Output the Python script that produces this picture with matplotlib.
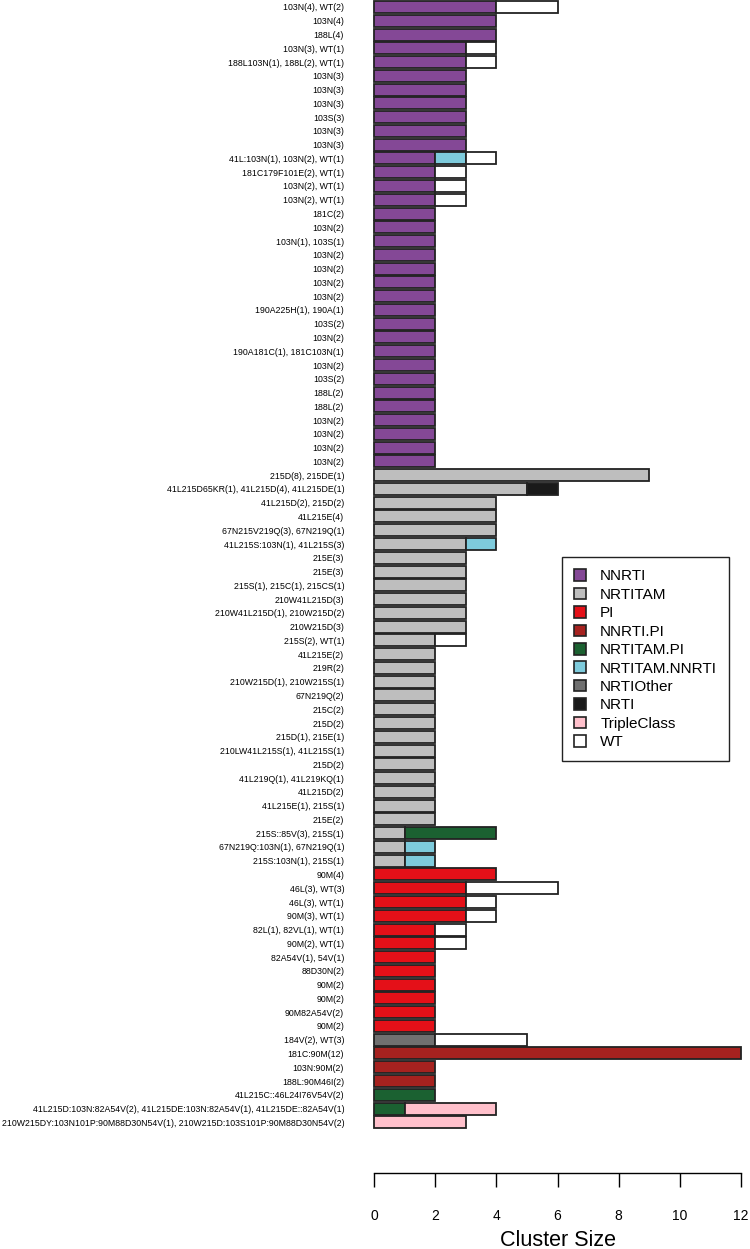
import numpy as np
import matplotlib
matplotlib.use('Agg')
import matplotlib.pyplot as plt
from matplotlib.patches import Patch

plt.rcParams['font.family'] = ['Liberation Sans', 'DejaVu Sans']

labels = [
    # NNRTI clusters
    '103N(4), WT(2)', '103N(4)', '188L(4)', '103N(3), WT(1)',
    '188L103N(1), 188L(2), WT(1)', '103N(3)', '103N(3)', '103N(3)', '103S(3)',
    '103N(3)', '103N(3)', '41L:103N(1), 103N(2), WT(1)',
    '181C179F101E(2), WT(1)', '103N(2), WT(1)', '103N(2), WT(1)', '181C(2)',
    '103N(2)', '103N(1), 103S(1)', '103N(2)', '103N(2)', '103N(2)', '103N(2)',
    '190A225H(1), 190A(1)', '103S(2)', '103N(2)', '190A181C(1), 181C103N(1)',
    '103N(2)', '103S(2)', '188L(2)', '188L(2)', '103N(2)', '103N(2)',
    '103N(2)', '103N(2)',
    # NRTI TAM clusters
    '215D(8), 215DE(1)', '41L215D65KR(1), 41L215D(4), 41L215DE(1)',
    '41L215D(2), 215D(2)', '41L215E(4)', '67N215V219Q(3), 67N219Q(1)',
    '41L215S:103N(1), 41L215S(3)', '215E(3)', '215E(3)',
    '215S(1), 215C(1), 215CS(1)', '210W41L215D(3)',
    '210W41L215D(1), 210W215D(2)', '210W215D(3)', '215S(2), WT(1)',
    '41L215E(2)', '219R(2)', '210W215D(1), 210W215S(1)', '67N219Q(2)',
    '215C(2)', '215D(2)', '215D(1), 215E(1)', '210LW41L215S(1), 41L215S(1)',
    '215D(2)', '41L219Q(1), 41L219KQ(1)', '41L215D(2)', '41L215E(1), 215S(1)',
    '215E(2)', '215S::85V(3), 215S(1)', '67N219Q:103N(1), 67N219Q(1)',
    '215S:103N(1), 215S(1)',
    # PI clusters
    '90M(4)', '46L(3), WT(3)', '46L(3), WT(1)', '90M(3), WT(1)',
    '82L(1), 82VL(1), WT(1)', '90M(2), WT(1)', '82A54V(1), 54V(1)',
    '88D30N(2)', '90M(2)', '90M(2)', '90M82A54V(2)', '90M(2)',
    # other
    '184V(2), WT(3)', '181C:90M(12)', '103N:90M(2)', '188L:90M46I(2)',
    '41L215C::46L24I76V54V(2)',
    '41L215D:103N:82A54V(2), 41L215DE:103N:82A54V(1), 41L215DE::82A54V(1)',
    '210W215DY:103N101P:90M88D30N54V(1), 210W215D:103S101P:90M88D30N54V(2)',
]

categories = ['NNRTI', 'NRTITAM', 'PI', 'NNRTI.PI', 'NRTITAM.PI',
              'NRTITAM.NNRTI', 'NRTIOther', 'NRTI', 'TripleClass', 'WT']
colors = ['#844896', '#bebebe', '#e41018', '#a6221f', '#1b6131',
          '#7ecbdc', '#707070', '#1a1a1a', '#ffc0cb', '#ffffff']

# counts per row (rows in label order), sections: 34 / 29 / 12 / 7
nnrti = [4, 4, 4, 3, 3, 3, 3, 3, 3, 3, 3, 2, 2, 2, 2, 2, 2, 2, 2, 2, 2, 2, 2, 2, 2, 2, 2, 2, 2, 2, 2, 2, 2, 2,
         0, 0, 0, 0, 0, 0, 0, 0, 0, 0, 0, 0, 0, 0, 0, 0, 0, 0, 0, 0, 0, 0, 0, 0, 0, 0, 0, 0, 0,
         0, 0, 0, 0, 0, 0, 0, 0, 0, 0, 0, 0,
         0, 0, 0, 0, 0, 0, 0]
nrtitam = [0, 0, 0, 0, 0, 0, 0, 0, 0, 0, 0, 0, 0, 0, 0, 0, 0, 0, 0, 0, 0, 0, 0, 0, 0, 0, 0, 0, 0, 0, 0, 0, 0, 0,
           9, 5, 4, 4, 4, 3, 3, 3, 3, 3, 3, 3, 2, 2, 2, 2, 2, 2, 2, 2, 2, 2, 2, 2, 2, 2, 1, 1, 1,
           0, 0, 0, 0, 0, 0, 0, 0, 0, 0, 0, 0,
           0, 0, 0, 0, 0, 0, 0]
pi = [0, 0, 0, 0, 0, 0, 0, 0, 0, 0, 0, 0, 0, 0, 0, 0, 0, 0, 0, 0, 0, 0, 0, 0, 0, 0, 0, 0, 0, 0, 0, 0, 0, 0,
      0, 0, 0, 0, 0, 0, 0, 0, 0, 0, 0, 0, 0, 0, 0, 0, 0, 0, 0, 0, 0, 0, 0, 0, 0, 0, 0, 0, 0,
      4, 3, 3, 3, 2, 2, 2, 2, 2, 2, 2, 2,
      0, 0, 0, 0, 0, 0, 0]
nnrti_pi = [0, 0, 0, 0, 0, 0, 0, 0, 0, 0, 0, 0, 0, 0, 0, 0, 0, 0, 0, 0, 0, 0, 0, 0, 0, 0, 0, 0, 0, 0, 0, 0, 0, 0,
            0, 0, 0, 0, 0, 0, 0, 0, 0, 0, 0, 0, 0, 0, 0, 0, 0, 0, 0, 0, 0, 0, 0, 0, 0, 0, 0, 0, 0,
            0, 0, 0, 0, 0, 0, 0, 0, 0, 0, 0, 0,
            0, 12, 2, 2, 0, 0, 0]
nrtitam_pi = [0, 0, 0, 0, 0, 0, 0, 0, 0, 0, 0, 0, 0, 0, 0, 0, 0, 0, 0, 0, 0, 0, 0, 0, 0, 0, 0, 0, 0, 0, 0, 0, 0, 0,
              0, 0, 0, 0, 0, 0, 0, 0, 0, 0, 0, 0, 0, 0, 0, 0, 0, 0, 0, 0, 0, 0, 0, 0, 0, 0, 3, 0, 0,
              0, 0, 0, 0, 0, 0, 0, 0, 0, 0, 0, 0,
              0, 0, 0, 0, 2, 1, 0]
nrtitam_nnrti = [0, 0, 0, 0, 0, 0, 0, 0, 0, 0, 0, 1, 0, 0, 0, 0, 0, 0, 0, 0, 0, 0, 0, 0, 0, 0, 0, 0, 0, 0, 0, 0, 0, 0,
                 0, 0, 0, 0, 0, 1, 0, 0, 0, 0, 0, 0, 0, 0, 0, 0, 0, 0, 0, 0, 0, 0, 0, 0, 0, 0, 0, 1, 1,
                 0, 0, 0, 0, 0, 0, 0, 0, 0, 0, 0, 0,
                 0, 0, 0, 0, 0, 0, 0]
nrti_other = [0, 0, 0, 0, 0, 0, 0, 0, 0, 0, 0, 0, 0, 0, 0, 0, 0, 0, 0, 0, 0, 0, 0, 0, 0, 0, 0, 0, 0, 0, 0, 0, 0, 0,
              0, 0, 0, 0, 0, 0, 0, 0, 0, 0, 0, 0, 0, 0, 0, 0, 0, 0, 0, 0, 0, 0, 0, 0, 0, 0, 0, 0, 0,
              0, 0, 0, 0, 0, 0, 0, 0, 0, 0, 0, 0,
              2, 0, 0, 0, 0, 0, 0]
nrti = [0, 0, 0, 0, 0, 0, 0, 0, 0, 0, 0, 0, 0, 0, 0, 0, 0, 0, 0, 0, 0, 0, 0, 0, 0, 0, 0, 0, 0, 0, 0, 0, 0, 0,
        0, 1, 0, 0, 0, 0, 0, 0, 0, 0, 0, 0, 0, 0, 0, 0, 0, 0, 0, 0, 0, 0, 0, 0, 0, 0, 0, 0, 0,
        0, 0, 0, 0, 0, 0, 0, 0, 0, 0, 0, 0,
        0, 0, 0, 0, 0, 0, 0]
triple = [0, 0, 0, 0, 0, 0, 0, 0, 0, 0, 0, 0, 0, 0, 0, 0, 0, 0, 0, 0, 0, 0, 0, 0, 0, 0, 0, 0, 0, 0, 0, 0, 0, 0,
          0, 0, 0, 0, 0, 0, 0, 0, 0, 0, 0, 0, 0, 0, 0, 0, 0, 0, 0, 0, 0, 0, 0, 0, 0, 0, 0, 0, 0,
          0, 0, 0, 0, 0, 0, 0, 0, 0, 0, 0, 0,
          0, 0, 0, 0, 0, 3, 3]
wt = [2, 0, 0, 1, 1, 0, 0, 0, 0, 0, 0, 1, 1, 1, 1, 0, 0, 0, 0, 0, 0, 0, 0, 0, 0, 0, 0, 0, 0, 0, 0, 0, 0, 0,
      0, 0, 0, 0, 0, 0, 0, 0, 0, 0, 0, 0, 1, 0, 0, 0, 0, 0, 0, 0, 0, 0, 0, 0, 0, 0, 0, 0, 0,
      0, 3, 1, 1, 1, 1, 0, 0, 0, 0, 0, 0,
      3, 0, 0, 0, 0, 0, 0]

series = [nnrti, nrtitam, pi, nnrti_pi, nrtitam_pi,
          nrtitam_nnrti, nrti_other, nrti, triple, wt]

fig = plt.figure(figsize=(7.5, 12.49), dpi=100)
ax = fig.add_axes([374 / 750, 76 / 1249, 367 / 750, 1173 / 1249])

y = np.arange(len(labels))
left = np.zeros(len(labels))
for vals, col in zip(series, colors):
    vals = np.array(vals, dtype=float)
    m = vals > 0
    ax.barh(y[m], vals[m], left=left[m], height=0.87, color=col,
            edgecolor='#222222', linewidth=1.3, clip_on=False)
    left += vals

ax.set_xlim(0, 12)
ax.set_ylim(84.68, -0.508)

for s in ['left', 'top', 'right']:
    ax.spines[s].set_visible(False)
ax.spines['bottom'].set_bounds(0, 12)
ax.spines['bottom'].set_linewidth(1.0)

ax.set_xticks(range(0, 13, 2))
ax.tick_params(axis='x', length=10, width=1.0, pad=16, labelsize=10)
ax.set_yticks(y)
ax.set_yticklabels(labels, fontsize=6.35)
ax.tick_params(axis='y', length=0, pad=21.5)
ax.set_xlabel('Cluster Size', fontsize=15.5, labelpad=5)

handles = [Patch(facecolor=c, edgecolor='#222222', linewidth=1.2) for c in colors]
leg = ax.legend(handles, categories, loc='upper left',
                bbox_to_anchor=(562 / 750, 1 - 557 / 1249),
                bbox_transform=fig.transFigure, borderaxespad=0,
                fontsize=11, handlelength=0.8, handleheight=0.8,
                handletextpad=0.9, labelspacing=0.28, borderpad=0.8,
                fancybox=False, framealpha=1)
leg.get_frame().set_edgecolor('#222222')
leg.get_frame().set_linewidth(1.0)

fig.savefig('out.png', dpi=100)
